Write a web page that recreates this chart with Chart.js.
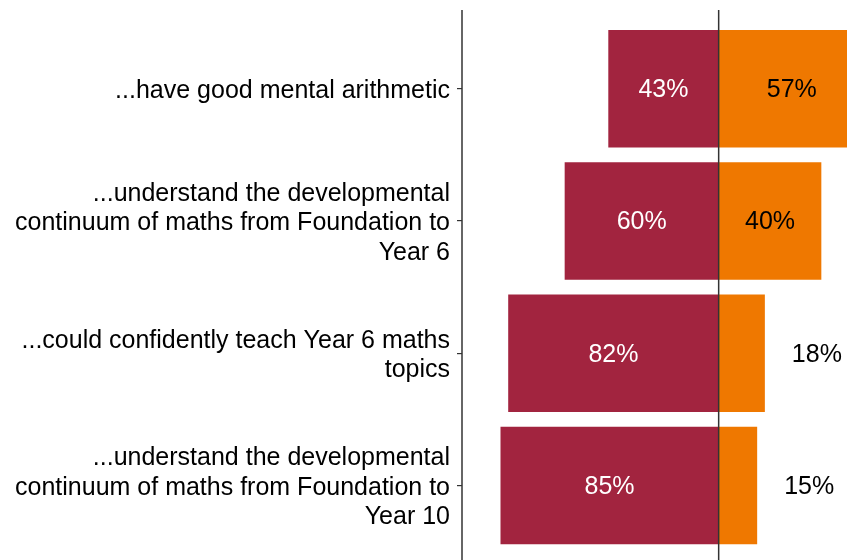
<!DOCTYPE html>
<html><head><meta charset="utf-8">
<script src="https://cdn.jsdelivr.net/npm/chart.js@4"></script>
<style>html,body{margin:0;padding:0;background:#fff}#wrap{width:847px;height:560px;position:relative}</style>
</head><body><div id="wrap"><canvas id="c"></canvas></div>
<script>
const categories = [
  ["...have good mental arithmetic"],
  ["...understand the developmental", "continuum of maths from Foundation to", "Year 6"],
  ["...could confidently teach Year 6 maths", "topics"],
  ["...understand the developmental", "continuum of maths from Foundation to", "Year 10"]
];
const leftValues = [43, 60, 82, 85];
const rightValues = [57, 40, 18, 15];
const xMin = -100, xMax = 50;

const FONT = '"Liberation Sans", Arial, Helvetica, sans-serif';
const RED = '#A2243F', ORANGE = '#EF7800', LINE = '#333333';

const overlay = {
  id: 'overlay',
  beforeDraw(chart) {
    const ys = chart.scales.y;
    const items = ys.getLabelItems();
    items.forEach(it => {
      if (!it.__shifted) { it.options.translation[1] += 2.5; it.__shifted = true; }
    });
  },
  afterDatasetsDraw(chart) {
    const ctx = chart.ctx, area = chart.chartArea, xs = chart.scales.x;
    ctx.save();
    ctx.strokeStyle = LINE; ctx.lineWidth = 1.5;
    const zx = xs.getPixelForValue(0);
    [area.left, zx].forEach(px => {
      ctx.beginPath(); ctx.moveTo(px, area.top - 12.7); ctx.lineTo(px, chart.height); ctx.stroke();
    });
    ctx.font = '25px ' + FONT;
    ctx.textBaseline = 'middle';
    chart.data.datasets.forEach((ds, di) => {
      const meta = chart.getDatasetMeta(di);
      meta.data.forEach((bar, i) => {
        const v = Math.abs(ds.data[i]);
        const txt = v + '%';
        const cx = (bar.x + bar.base) / 2;
        const cy = bar.y + 1.5;
        if (di === 0) {
          ctx.fillStyle = '#ffffff'; ctx.textAlign = 'center';
          ctx.fillText(txt, cx, cy);
        } else if (v >= 30) {
          ctx.fillStyle = '#000000'; ctx.textAlign = 'center';
          ctx.fillText(txt, cx, cy);
        } else {
          ctx.fillStyle = '#000000'; ctx.textAlign = 'left';
          ctx.fillText(txt, bar.x + 27, cy);
        }
      });
    });
    ctx.restore();
  }
};

new Chart(document.getElementById('c'), {
  type: 'bar',
  data: {
    labels: categories,
    datasets: [
      { data: leftValues.map(v => -v), backgroundColor: RED, borderWidth: 0, categoryPercentage: 1, barPercentage: 0.888 },
      { data: rightValues, backgroundColor: ORANGE, borderWidth: 0, categoryPercentage: 1, barPercentage: 0.888 }
    ]
  },
  options: {
    indexAxis: 'y',
    responsive: true,
    maintainAspectRatio: false,
    animation: false,
    devicePixelRatio: 1,
    layout: { padding: { top: 22.7, bottom: 8.3, left: 0, right: 0 } },
    plugins: { legend: { display: false }, tooltip: { enabled: false } },
    scales: {
      x: { type: 'linear', stacked: true, min: xMin, max: xMax, display: false },
      y: {
        stacked: true,
        border: { display: false },
        grid: { offset: false, drawOnChartArea: false, drawTicks: true, tickLength: 5, color: LINE, lineWidth: 1.2 },
        ticks: { color: '#000', padding: 7, font: { family: FONT, size: 25, lineHeight: 1.18 } },
        afterFit(s) { s.width = 462; s.paddingTop = 0; s.paddingBottom = 0; }
      }
    }
  },
  plugins: [overlay]
});
</script>
</body></html>
